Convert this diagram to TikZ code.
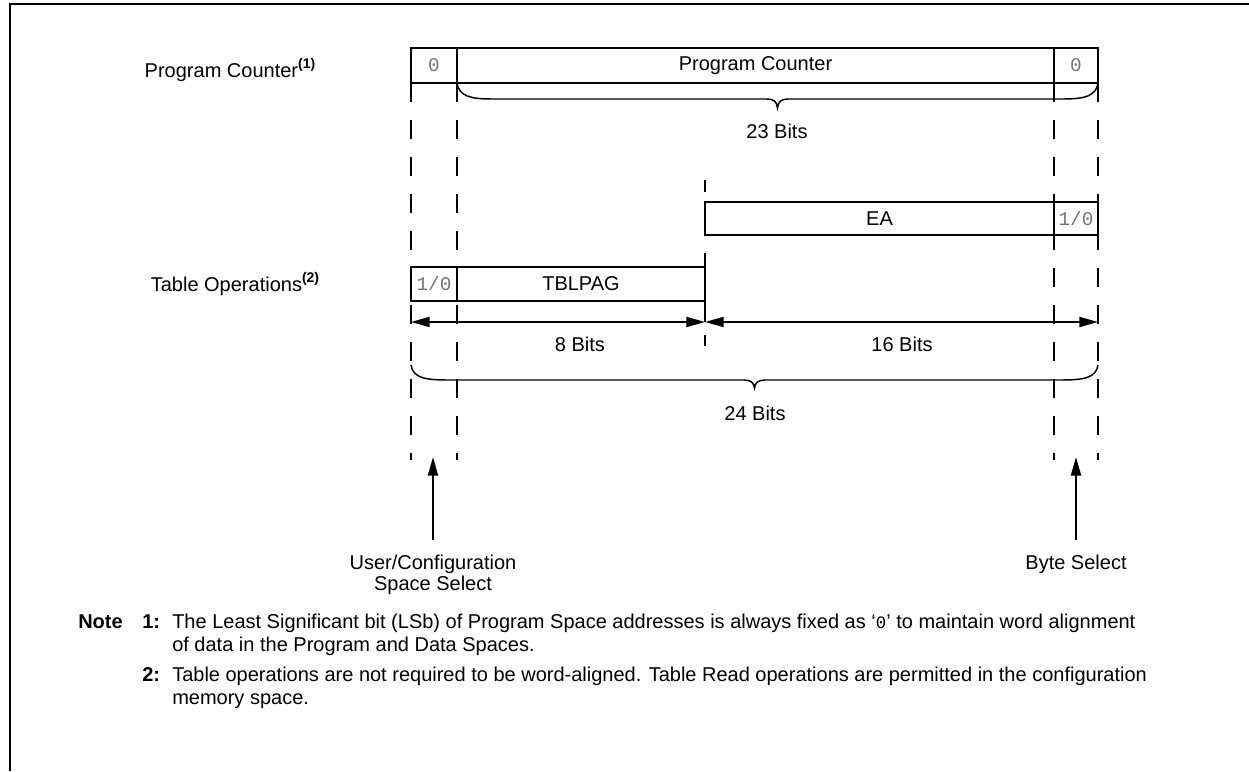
\documentclass[tikz,border=0pt]{standalone}
\usepackage{fontspec}
\setmainfont{Liberation Sans}
\newfontfamily\monofont{Liberation Mono}
\usetikzlibrary{arrows.meta,calc}
\newcommand\supnum[1]{\raisebox{6.5pt}{\fontsize{10.5}{10.5}\selectfont\bfseries(#1)}}
\begin{document}
\begin{tikzpicture}[x=0.75pt,y=-0.75pt,
  font=\fontsize{15}{18}\selectfont,
  cell/.style={draw, line width=1.5pt, inner sep=0pt, outer sep=0pt, anchor=north west},
  mono/.style={font=\monofont\fontsize{14.5}{14.5}\selectfont, text=black!55},
  dline/.style={line width=1.5pt, dash pattern=on 14.25pt off 13.5pt},
  sline/.style={line width=1.5pt},
  dim/.style={line width=1.5pt, {Triangle[length=14pt,width=7.5pt]}-{Triangle[length=14pt,width=7.5pt]}},
  uparrow/.style={line width=1.5pt, -{Triangle[length=14pt,width=7.5pt]}},
  bracepath/.style={line width=1.1pt},
  lbl/.style={inner sep=0pt, anchor=base},
  notetext/.style={inner sep=0pt, anchor=base west}
]
\useasboundingbox (0,0) rectangle (1249,771);
% frame
\draw[line width=1.5pt] (10,771) -- (10,4) -- (1249,4);

% left labels
\node[lbl] (lpc) at (230,77) {Program Counter\supnum{1}};
\node[lbl] (lto) at (235,291) {Table Operations\supnum{2}};

% program counter
\node[cell, mono, minimum width=34.5pt, minimum height=26.25pt] (pc0) at (411,48) {0};
\node[cell, minimum width=447.75pt, minimum height=26.25pt] (pcm) at (457,48) {Program Counter};
\node[cell, mono, minimum width=33pt, minimum height=26.25pt] (pc1) at (1054,48) {0};

% EA
\node[cell, minimum width=261.75pt, minimum height=24.75pt] (ea) at (705,202) {EA};
\node[cell, mono, minimum width=33pt, minimum height=24.75pt] (eab) at (1054,202) {1/0};

% TBLPAG
\node[cell, mono, minimum width=34.5pt, minimum height=25.5pt] (tb0) at (411,267) {1/0};
\node[cell, minimum width=186pt, minimum height=25.5pt] (tbl) at (457,267) {TBLPAG};

% dashed guides
\coordinate (e1) at (411,460);
\coordinate (e2) at (457,460);
\coordinate (e3) at (1054,460);
\coordinate (e4) at (1098,460);
\draw[dline] (pc0.south west) -- (e1);
\draw[dline] (pcm.south west) -- (e2);
\draw[dline] (pc1.south west) -- (e3);
\draw[dline] (pc1.south east) -- (e4);

% middle guide at x=705
\coordinate (t1) at (705,180);
\coordinate (t2) at (705,192);
\coordinate (t3) at (705,253);
\coordinate (t4) at (705,335);
\coordinate (t5) at (705,346);
\coordinate (l) at (411,322);
\coordinate (m) at (705,322);
\coordinate (r) at (1098,322);
\draw[sline] (t1) -- (t2);
\draw[sline] (t3) -- (m);
\draw[sline] (t4) -- (t5);

% dimension arrows
\draw[dim] (l) -- (m);
\draw[dim] (m) -- (r);
\node (b8) at (580,344) {8 Bits};
\node (b16) at (902,344) {16 Bits};

% brace 23 bits
\draw[bracepath] (457,83) .. controls (459,96) and (470,99) .. (492,99) -- (767,99)
  .. controls (774,99) and (777,102) .. (777.5,108)
  .. controls (778,102) and (781,99) .. (788,99) -- (1063,99)
  .. controls (1085,99) and (1096,96) .. (1098,83);
\node (b23) at (777,131) {23 Bits};

% brace 24 bits
\draw[bracepath] (411,365) .. controls (413,378) and (425,380) .. (449,380) -- (744,380)
  .. controls (751,380) and (754,383) .. (754.5,388)
  .. controls (755,383) and (758,380) .. (765,380) -- (1060,380)
  .. controls (1084,380) and (1096,378) .. (1098,365);
\node (b24) at (755,413) {24 Bits};

% select arrows
\coordinate (u1s) at (433,540);
\coordinate (u1e) at (433,457);
\coordinate (u2s) at (1076,540);
\coordinate (u2e) at (1076,457);
\draw[uparrow] (u1s) -- (u1e);
\draw[uparrow] (u2s) -- (u2e);
\node[lbl] (usl1) at (433,569) {User/Configuration};
\node[lbl] (usl2) at (433,590) {Space Select};
\node[lbl] (bsl) at (1076,569) {Byte Select};

% notes
\node[notetext, font=\fontsize{15}{18}\selectfont\bfseries] (nt) at (78,628) {Note};
\node[notetext, font=\fontsize{15}{18}\selectfont\bfseries] (n1) at (142,628) {1:};
\node[notetext] (n1a) at (172,628) {The Least Significant bit (LSb) of Program Space addresses is always fixed as ‘{\monofont\fontsize{13}{13}\selectfont 0}’ to maintain word alignment};
\node[notetext] (n1b) at (172,651) {of data in the Program and Data Spaces.};
\node[notetext, font=\fontsize{15}{18}\selectfont\bfseries] (n2) at (142,681) {2:};
\node[notetext] (n2a) at (172,681) {Table operations are not required to be word-aligned. Table Read operations are permitted in the configuration};
\node[notetext] (n2b) at (172,704) {memory space.};
\end{tikzpicture}
\end{document}
